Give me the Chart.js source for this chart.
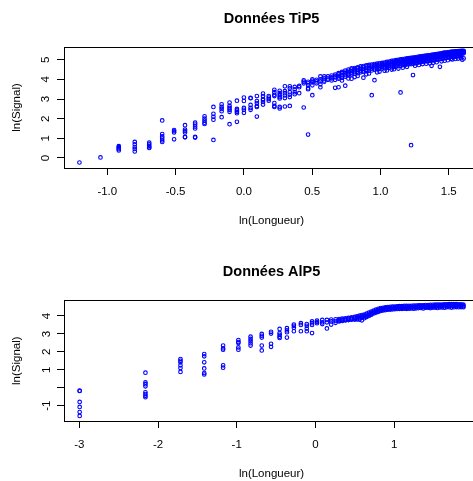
<!DOCTYPE html>
<html>
<head>
<meta charset="utf-8">
<script src="https://cdn.jsdelivr.net/npm/chart.js@4/dist/chart.umd.min.js"></script>
<style>
html,body{margin:0;padding:0;background:#fff;overflow:hidden;width:473px;height:481px;}
.panel{position:absolute;left:0;}
#p1{top:0;width:482px;height:240px;}
#p2{top:240px;width:482px;height:241px;}
</style>
</head>
<body>
<div class="panel" id="p1"><canvas id="c1" width="482" height="240"></canvas></div>
<div class="panel" id="p2"><canvas id="c2" width="482" height="241"></canvas></div>
<script>
// ---------- Données TiP5 : ln(Longueur) columns and ln(Signal) values ----------
const tipX = [-1.204,-1.050,-0.916,-0.799,-0.693,-0.598,-0.511,-0.431,-0.357,-0.288,-0.223,-0.163,-0.105,-0.051,0.000,0.049,0.095,0.140,0.182,0.223,0.262,0.300,0.336,0.372,0.405,0.438,0.470,0.501,0.531,0.560,0.588,0.615,0.642,0.668,
  0.693,0.718,0.742,0.765,0.788,0.811,0.833,0.854,0.875,0.896,0.916,0.936,0.956,0.975,0.993,1.012,1.030,1.047,1.065,1.082,1.099,1.115,1.131,1.147,1.163,1.179,1.194,1.209,1.224,1.238,1.253,1.267,1.281,1.295,1.308,1.322,1.335,1.348,1.361,1.374,1.386,1.399,1.411,1.423,1.435,1.447,1.459,1.470,1.482,1.493,1.504,1.515,1.526,1.537,1.548,1.558,1.569,1.579,1.589,1.599,1.609];
const tipY = [
  [-0.23],[0.03],[0.60,0.55,0.50,0.45,0.38],[0.82,0.70,0.56,0.46,0.33],[0.78,0.70,0.62,0.55,0.51],
  [1.91,1.22,1.10,1.00,0.90,0.82],[1.42,1.36,1.30,0.95],[1.67,1.45,1.38,1.30,1.07,1.05],[1.80,1.70,1.60,1.50,1.07,1.04],
  [2.12,2.00,1.90,1.80,1.73],[2.60,2.25,2.10,1.95,0.92],[2.73,2.60,2.50,2.38,2.08],[2.82,2.65,2.55,2.45,2.35,1.72],
  [2.92,2.50,2.42,2.35,2.28,1.84],[3.08,2.90,2.55,2.45,2.30],[3.06,3.04,2.70,2.55,2.45],[3.15,2.90,2.80,2.65,2.60,2.11],
  [3.28,3.15,3.00,2.95,2.85,2.72],[3.15,3.08,3.00,2.92],[3.47,3.35,3.22,3.15,2.80,2.65,2.60],[3.42,3.30,3.20,3.10,3.03,2.60,2.52],
  [3.65,3.40,3.30,3.18,3.05,2.62],[3.65,3.55,3.35,3.22,3.10,2.65],[3.62,3.50,3.35,3.25],[3.67,3.60,3.30],
  [3.95,3.88,3.80,2.57],[3.88,3.80,3.70,3.55,3.50,1.19],[4.00,3.93,3.85,3.70,3.20],[3.98,3.90,3.80],
  [4.15,4.00,3.90,3.75,3.60],[4.15,4.05,3.95,3.88],[4.15,4.05,3.98],[4.20,4.10,4.05,3.95],[4.24,4.15,4.10,3.98,3.57],
  [4.32,4.26,4.18,4.10,4.04,3.60],[4.38,4.32,4.24,4.16,4.08,3.95],[4.45,4.39,4.32,4.22,4.14,3.68],[4.50,4.44,4.36,4.28,4.20,4.05],
  [4.56,4.50,4.42,4.34,4.26,4.04],[4.58,4.52,4.46,4.38,4.30,4.12],[4.62,4.56,4.48,4.40,4.32,4.18],[4.66,4.59,4.52,4.44,4.36],
  [4.68,4.62,4.54,4.46,4.38,4.09],[4.72,4.66,4.58,4.49,4.42,4.26],[4.74,4.68,4.60,4.52,4.44,4.30],[4.76,4.70,4.64,4.55,4.46,3.20],
  [4.78,4.72,4.66,4.57,4.50,3.96],[4.80,4.74,4.68,4.60,4.52,4.36],[4.82,4.76,4.70,4.62,4.54,4.40],[4.84,4.78,4.72,4.64,4.56],
  [4.86,4.80,4.74,4.66,4.57,4.44],[4.89,4.83,4.76,4.68,4.58,4.46],[4.91,4.85,4.78,4.70,4.60],[4.94,4.88,4.80,4.72,4.62,4.50],
  [4.96,4.90,4.84,4.74,4.64,4.52],[4.98,4.92,4.86,4.76,4.66],[5.00,4.94,4.88,4.78,4.68,4.55],[5.02,4.96,4.90,4.80,4.70,3.34],
  [5.04,4.98,4.92,4.82,4.72,4.60],[5.05,5.00,4.94,4.84,4.74],[5.07,5.02,4.96,4.86,4.76,4.64],[5.08,5.03,4.97,4.88,4.78],
  [5.10,5.04,4.98,4.88,4.78,0.65],[5.11,5.06,5.00,4.90,4.80,4.22],[5.12,5.07,5.01,4.92,4.82,4.70],[5.14,5.08,5.02,4.94,4.84],
  [5.16,5.10,5.04,4.96,4.86,4.74],[5.17,5.12,5.06,4.98,4.88],[5.19,5.14,5.08,5.00,4.90,4.78],[5.20,5.15,5.09,5.01,4.92],
  [5.21,5.16,5.10,5.02,4.92,4.80],[5.22,5.17,5.11,5.04,4.94],[5.23,5.18,5.12,5.05,4.94,4.82],[5.25,5.20,5.14,5.06,4.96,4.69],
  [5.26,5.21,5.16,5.08,4.97,4.85],[5.27,5.22,5.17,5.10,4.98],[5.29,5.24,5.18,5.11,5.00,4.88],[5.30,5.25,5.20,5.13,5.02],
  [5.32,5.27,5.21,5.14,5.04,4.64],[5.33,5.28,5.22,5.16,5.05,4.92],[5.35,5.30,5.24,5.18,5.07],[5.36,5.31,5.26,5.19,5.08,4.95],
  [5.37,5.32,5.27,5.20,5.10],[5.38,5.34,5.28,5.22,5.11,4.98],[5.39,5.35,5.30,5.23,5.12],[5.40,5.36,5.31,5.24,5.04],
  [5.41,5.37,5.32,5.25,5.14,5.02],[5.42,5.38,5.33,5.26,5.15],[5.43,5.39,5.34,5.27,5.16,5.04],[5.43,5.39,5.34,5.28,5.17],
  [5.44,5.40,5.35,5.29,5.18,5.06],[5.44,5.40,5.36,5.30,5.19],[5.45,5.41,5.36,5.31,5.20,5.08],[5.45,5.41,5.37,5.32,5.00],
  [5.45,5.42,5.38,5.33,5.07]
];
const tipXTicks = [-1.0,-0.5,0.0,0.5,1.0,1.5];
const tipXLabels = ['-1.0','-0.5','0.0','0.5','1.0','1.5'];
const tipYTicks = [0,1,2,3,4,5];
const tipYLabels = ['0','1','2','3','4','5'];

// ---------- Données AlP5 ----------
const alpX = [-2.996,-2.160,-1.715,-1.413,-1.173,-0.979,-0.824,-0.682,-0.564,-0.455,-0.362,-0.274,-0.185,-0.110,-0.043,0.020,0.087,0.146,0.200,0.256,
  0.30,0.34,0.38,0.42,0.46,0.50,0.53,0.56,0.59,0.62,0.65,0.68,0.71,0.74,0.77,0.80,0.83,0.86,0.89,0.92,0.95,0.98,1.01,1.04,1.07,1.10,1.13,1.16,1.19,1.22,1.25,1.28,1.31,1.34,1.37,1.40,1.43,1.46,1.49,1.52,1.55,1.58,1.61,1.64,1.67,1.70,1.73,1.76,1.79,1.82,1.85,1.88];
const alpY = [
  [-0.16,-0.18,-0.79,-1.07,-1.35,-1.57],[0.84,0.30,0.20,0.08,-0.25,-0.35,-0.45,-0.53],[1.60,1.50,1.42,1.25,1.10,0.88],
  [1.88,1.75,1.42,1.08,0.82,0.74],[2.35,2.20,2.12,1.25,1.12],[2.66,2.55,2.50,2.25,2.12],[2.85,2.72,2.60,2.48,2.35],
  [3.00,2.90,2.80,2.35,2.08],[3.12,3.02,2.45,2.28],[3.28,3.05,2.95,2.85,2.78],[3.32,3.20,3.10,2.80],[3.52,3.45,3.35,3.15],
  [3.60,3.50,3.15],[3.55,3.45,3.30,3.15],[3.70,3.60,3.50,3.05],[3.74,3.66,3.60],[3.78,3.65,3.55],[3.78,3.65,3.31],
  [3.80,3.70,3.52],[3.82,3.72,3.62],
  [3.83,3.78,3.74,3.70],[3.85,3.80,3.76,3.72],[3.87,3.82,3.78,3.75],[3.89,3.84,3.80,3.77],[3.92,3.87,3.83,3.79],
  [3.95,3.90,3.85,3.80],[3.98,3.92,3.86,3.81],[4.02,3.95,3.88,3.80],[4.05,3.98,3.90,3.76],[4.08,4.02,3.95,3.88],
  [4.13,4.07,4.00,3.94],[4.19,4.13,4.06,4.00],[4.25,4.19,4.13,4.07],[4.30,4.24,4.19,4.14],[4.35,4.29,4.24,4.19],
  [4.40,4.34,4.28,4.23],[4.44,4.38,4.32,4.28],[4.46,4.41,4.36,4.31],[4.48,4.43,4.38,4.33],[4.50,4.45,4.40,4.35],
  [4.51,4.46,4.41,4.36],[4.52,4.47,4.42,4.37],[4.53,4.48,4.43,4.38],[4.54,4.49,4.44,4.39],[4.55,4.50,4.45,4.40],
  [4.55,4.50,4.46,4.40],[4.56,4.51,4.46,4.41],[4.56,4.51,4.46,4.40],[4.57,4.52,4.47,4.41],[4.57,4.52,4.48,4.42],
  [4.58,4.53,4.48,4.41],[4.58,4.53,4.48,4.43],[4.59,4.54,4.49,4.44],[4.60,4.55,4.50,4.45],[4.60,4.55,4.50,4.42],
  [4.61,4.56,4.51,4.46],[4.61,4.56,4.51,4.46],[4.62,4.57,4.52,4.44],[4.62,4.57,4.52,4.47],[4.63,4.58,4.53,4.47],
  [4.63,4.58,4.53,4.45],[4.64,4.59,4.54,4.48],[4.64,4.59,4.54,4.48],[4.65,4.60,4.55,4.46],[4.65,4.60,4.55,4.49],
  [4.66,4.61,4.55,4.49],[4.66,4.61,4.56,4.47],[4.66,4.61,4.56,4.49],[4.66,4.61,4.56,4.50],[4.65,4.60,4.55,4.49],
  [4.65,4.60,4.55,4.50],[4.64,4.59,4.54,4.49]
];
const alpXTicks = [-3,-2,-1,0,1];
const alpXLabels = ['-3','-2','-1','0','1'];
const alpYTicks = [-1,0,1,2,3,4];
const alpYLabels = ['-1','','1','2','3','4'];

const FONT = "'Liberation Sans', Arial, Helvetica, sans-serif";
Chart.defaults.color = '#000';
Chart.defaults.font.family = FONT;

function points(xs, ys) {
  const out = [];
  xs.forEach((x, i) => ys[i].forEach(y => out.push({x: x, y: y})));
  return out;
}

const boxPlugin = {
  id: 'box',
  afterDraw(chart) {
    const a = chart.chartArea, ctx = chart.ctx;
    ctx.save();
    ctx.strokeStyle = '#000';
    ctx.lineWidth = 1;
    ctx.strokeRect(Math.round(a.left) + 0.5, Math.round(a.top) + 0.5, Math.round(a.right - a.left), Math.round(a.bottom - a.top));
    ctx.restore();
  }
};

function makeChart(id, cfg) {
  return new Chart(document.getElementById(id), {
    type: 'scatter',
    data: {datasets: [{
      data: points(cfg.xs, cfg.ys),
      pointStyle: 'circle',
      pointRadius: 1.8,
      pointBorderWidth: 1.1,
      borderColor: '#0000ff',
      backgroundColor: 'rgba(0,0,0,0)',
      pointHoverRadius: 1.8
    }]},
    options: {
      responsive: false,
      animation: false,
      events: [],
      layout: {padding: {left: 0, right: 0, top: 0, bottom: 0}},
      plugins: {
        legend: {display: false},
        tooltip: {enabled: false},
        title: {
          display: true, text: cfg.title, fullSize: false, color: '#000',
          font: {family: FONT, size: 14.5, weight: 'bold', lineHeight: 1.2},
          padding: {top: cfg.titleTop, bottom: cfg.titleBottom}
        }
      },
      scales: {
        x: {
          type: 'linear', min: cfg.xmin, max: cfg.xmax,
          afterFit(s) { s.height = cfg.xAxisH; },
          afterBuildTicks(s) { s.ticks = cfg.xTicks.map(v => ({value: v})); },
          grid: {display: true, drawOnChartArea: false, drawTicks: true, tickLength: 7, color: '#000', lineWidth: 1},
          border: {display: false},
          ticks: {
            font: {family: FONT, size: 11.5}, color: '#000', padding: 10, maxRotation: 0, minRotation: 0, autoSkip: false,
            callback: (v, i) => cfg.xLabels[i]
          },
          title: {display: true, text: 'ln(Longueur)', color: '#000', font: {family: FONT, size: 11.5}, padding: {top: 0, bottom: cfg.xTitlePad}}
        },
        y: {
          type: 'linear', min: cfg.ymin, max: cfg.ymax,
          afterFit(s) { s.width = 64; },
          afterBuildTicks(s) { s.ticks = cfg.yTicks.map(v => ({value: v})); },
          grid: {display: true, drawOnChartArea: false, drawTicks: true, tickLength: 7, color: '#000', lineWidth: 1},
          border: {display: false},
          ticks: {
            font: {family: FONT, size: 11.5}, color: '#000', padding: cfg.yTickPad, minRotation: 90, maxRotation: 90,
            crossAlign: 'center', autoSkip: false,
            callback: (v, i) => cfg.yLabels[i]
          },
          title: {display: true, text: 'ln(Signal)', color: '#000', font: {family: FONT, size: 11.5}, padding: {top: 10, bottom: 0}}
        }
      }
    },
    plugins: [boxPlugin]
  });
}

makeChart('c1', {
  title: 'Données TiP5', xs: tipX, ys: tipY,
  xmin: -1.317, xmax: 1.722, ymin: -0.51, ymax: 5.65,
  xTicks: tipXTicks, xLabels: tipXLabels, yTicks: tipYTicks, yLabels: tipYLabels,
  titleTop: 10.3, titleBottom: 19.3, xAxisH: 72, xTitlePad: 12, yTickPad: 7.8
});
makeChart('c2', {
  title: 'Données AlP5', xs: alpX, ys: alpY,
  xmin: -3.195, xmax: 2.08, ymin: -1.853, ymax: 4.875,
  xTicks: alpXTicks, xLabels: alpXLabels, yTicks: alpYTicks, yLabels: alpYLabels,
  titleTop: 23.3, titleBottom: 19.6, xAxisH: 60, xTitlePad: 0.5, yTickPad: 5.2
});
</script>
</body>
</html>
